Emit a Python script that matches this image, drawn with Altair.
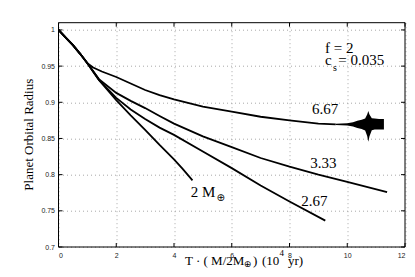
import altair as alt
import pandas as pd

# ---------------- data ----------------
x_2m = [0, 0.25, 0.5, 0.75, 1.0, 1.4, 2.0, 2.5, 3.0, 3.5, 4.0, 4.3, 4.64]
y_2m = [1.0, 0.9895, 0.979, 0.967, 0.954, 0.931, 0.903, 0.882, 0.862, 0.841, 0.821, 0.808, 0.792]

x_267 = [0, 0.25, 0.5, 0.75, 1.0, 1.4, 2.0, 2.5, 3.0, 3.5, 4.0, 5.0, 6.0, 7.0, 8.0, 9.24]
y_267 = [1.0, 0.9895, 0.979, 0.967, 0.954, 0.931, 0.906, 0.890, 0.877, 0.865, 0.855, 0.832, 0.809, 0.785, 0.763, 0.7365]

x_333 = [0, 0.25, 0.5, 0.75, 1.0, 1.4, 2.0, 2.5, 3.0, 3.5, 4.0, 5.0, 6.0, 7.0, 8.0, 9.0, 10.0, 11.38]
y_333 = [1.0, 0.9895, 0.979, 0.967, 0.954, 0.932, 0.913, 0.902, 0.892, 0.881, 0.8705, 0.853, 0.838, 0.823, 0.811, 0.800, 0.790, 0.776]

x_667 = [0, 0.25, 0.5, 0.75, 1.0, 1.2, 1.5, 2.0, 2.5, 3.0, 3.5, 4.0, 5.0, 6.0, 7.0, 8.0, 9.0, 9.6]
y_667 = [1.0, 0.9895, 0.979, 0.967, 0.954, 0.948, 0.9425, 0.935, 0.926, 0.917, 0.910, 0.904, 0.894, 0.887, 0.880, 0.875, 0.8705, 0.8695]

# envelope of the oscillating tail of the 6.67 run
x_osc = [9.6, 10.0, 10.2, 10.35, 10.5, 10.62, 10.69, 10.73, 10.77, 10.85, 10.95, 11.1, 11.27]
y_osc_hi = [0.8705, 0.871, 0.8725, 0.8745, 0.876, 0.8775, 0.883, 0.888, 0.883, 0.878, 0.8775, 0.877, 0.877]
y_osc_lo = [0.8685, 0.868, 0.8665, 0.8645, 0.863, 0.861, 0.8535, 0.8455, 0.853, 0.8615, 0.8625, 0.8625, 0.8625]

x_ticks = [0, 2, 4, 6, 8, 10, 12]
y_ticks = [0.7, 0.75, 0.8, 0.85, 0.9, 0.95, 1.0]

curve_labels = ["6.67", "3.33", "2.67"]
curve_label_x = [9.23, 9.17, 8.86]
curve_label_y = [0.8838, 0.8088, 0.7571]

# ---------------- build tables ----------------
frames = []
for name, xs_, ys_ in [("2", x_2m, y_2m), ("2.67", x_267, y_267),
                       ("3.33", x_333, y_333), ("6.67", x_667, y_667)]:
    frames.append(pd.DataFrame({"series": name, "x": xs_, "y": ys_, "i": range(len(xs_))}))
df = pd.concat(frames, ignore_index=True)
df_osc = pd.DataFrame({"x": x_osc, "hi": y_osc_hi, "lo": y_osc_lo})
df_tx = pd.DataFrame({"x": x_ticks})
df_ty = pd.DataFrame({"y": y_ticks})
df_lab = pd.DataFrame({"x": curve_label_x, "y": curve_label_y, "t": curve_labels})

W, H = 346.5, 224.3
SERIF = "Liberation Serif"
xs = alt.Scale(domain=[0, 12], nice=False, zero=False)
ys = alt.Scale(domain=[0.7, 1.01], nice=False, zero=False)

x_axis = alt.Axis(values=x_ticks, grid=True, gridDash=[1, 3], gridColor="#a8a8a8",
                  domain=False, ticks=False, labelFont="Liberation Sans", labelFontSize=7,
                  labelColor="#222", labelPadding=4, title=None)
y_axis = alt.Axis(values=y_ticks, format=".2~f", grid=True, gridDash=[1, 3], gridColor="#a8a8a8",
                  domain=False, ticks=False, labelFont="Liberation Sans", labelFontSize=7,
                  labelColor="#222", labelPadding=4, title=None)


def X(field="x"):
    return alt.X(f"{field}:Q", scale=xs, axis=x_axis, title=None)


def Y(field="y"):
    return alt.Y(f"{field}:Q", scale=ys, axis=y_axis, title=None)


lines = alt.Chart(df).mark_line(color="black", strokeWidth=1.8).encode(
    x=X(), y=Y(), detail="series:N", order="i:Q")

osc = alt.Chart(df_osc).mark_area(color="black", opacity=1).encode(
    x=X(), y=Y("hi"), y2="lo:Q")

tick_b = alt.Chart(df_tx).mark_rule(color="black").encode(x=X(), y=alt.value(H), y2=alt.value(H - 4))
tick_t = alt.Chart(df_tx).mark_rule(color="black").encode(x=X(), y=alt.value(0), y2=alt.value(4))
tick_l = alt.Chart(df_ty).mark_rule(color="black").encode(y=Y(), x=alt.value(0), x2=alt.value(4))
tick_r = alt.Chart(df_ty).mark_rule(color="black").encode(y=Y(), x=alt.value(W), x2=alt.value(W - 4))

frame_df = pd.DataFrame({"k": [0]})
frame = [
    alt.Chart(frame_df).mark_rule(color="black", strokeWidth=1).encode(
        x=alt.value(0), x2=alt.value(W), y=alt.value(0)),
    alt.Chart(frame_df).mark_rule(color="black", strokeWidth=1).encode(
        x=alt.value(0), x2=alt.value(W), y=alt.value(H)),
    alt.Chart(frame_df).mark_rule(color="black", strokeWidth=1).encode(
        y=alt.value(0), y2=alt.value(H), x=alt.value(0)),
    alt.Chart(frame_df).mark_rule(color="black", strokeWidth=1).encode(
        y=alt.value(0), y2=alt.value(H), x=alt.value(W)),
]

labels = alt.Chart(df_lab).mark_text(font=SERIF, fontSize=15, align="center",
                                     baseline="alphabetic", color="black").encode(
    x=X(), y=Y(), text="t:N")


def txt(s, x, y, size=15, font=SERIF, align="left", baseline="alphabetic", angle=0, px=False):
    d = pd.DataFrame({"x": [x], "y": [y], "t": [s]})
    m = alt.Chart(d).mark_text(font=font, fontSize=size, align=align, baseline=baseline,
                               angle=angle, color="black")
    if px:
        return m.encode(x=alt.value(x), y=alt.value(y), text="t:N")
    return m.encode(x=X(), y=Y(), text="t:N")


TB = 242.0  # x-title baseline (px from plot top)
annot = [
    txt("2 M", 4.58, 0.7695),
    txt("\u2295", 5.62, 0.7673, size=10, font="DejaVu Sans", align="center", baseline="middle"),
    txt("f = 2", 9.23, 0.9685),
    txt("c", 9.23, 0.9515),
    txt("s", 9.51, 0.9437, size=10),
    txt("= 0.035", 9.69, 0.9515),
    # y title
    txt("Planet Orbital Radius", -30, 112, size=13, align="center", baseline="middle",
        angle=270, px=True),
    # x title pieces
    txt("T \u00b7 ( M/2M", 126.5, TB, size=13, px=True),
    txt("\u2295", 189.0, TB - 0.5, size=9, font="DejaVu Sans", align="center", baseline="middle", px=True),
    txt(")", 194.5, TB, size=13, px=True),
    txt("(10", 203.5, TB, size=13, px=True),
    txt("4", 221.0, TB - 12, size=9, baseline="middle", px=True),
    txt("yr)", 229.5, TB, size=13, px=True),
]

chart = alt.layer(lines, osc, tick_b, tick_t, tick_l, tick_r, *frame, labels, *annot).properties(
    width=W, height=H,
    autosize=alt.AutoSizeParams(type="none"),
    padding={"left": 50.5, "top": 14.7, "right": 2, "bottom": 22},
).configure_view(stroke=None)

chart.save("out.html", embed_options={"renderer": "svg", "actions": False})
